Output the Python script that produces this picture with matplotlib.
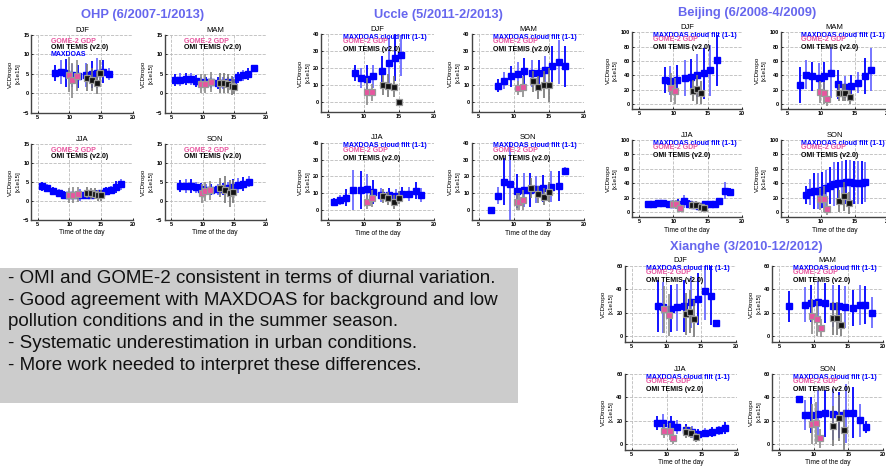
import matplotlib.pyplot as plt

plt.rcParams['font.family'] = ['Liberation Sans', 'DejaVu Sans']

# ---- data: (time of day, VCDtropo, error) per season and instrument ----
# OHP
ohp_djf_max = ([7.7, 8.6, 9.5, 10.4, 11.4, 12.6, 13.5, 14.4, 15.3, 16.2],
               [5.2, 5.5, 5.2, 4.6, 4.4, 4.7, 4.9, 5.2, 5.6, 5.0],
               [2.0, 3.0, 3.5, 3.0, 3.0, 3.0, 3.5, 3.8, 3.0, 1.5])
ohp_djf_gome = ([9.9, 10.4, 11.2], [4.8, 3.4, 4.5], [4.5, 4.5, 4.0])
ohp_djf_omi = ([12.8, 13.5, 14.3, 14.9], [4.0, 3.5, 2.7, 5.1], [3.5, 3.0, 3.0, 3.5])

ohp_mam_max = ([5.7, 6.5, 7.3, 8.1, 8.9, 9.7, 10.5, 11.3, 12.4, 13.2, 14.0, 14.8, 15.6, 16.4, 17.2, 18.1],
               [3.4, 3.5, 3.6, 3.7, 3.1, 2.8, 2.8, 2.8, 2.7, 2.7, 2.8, 2.6, 4.1, 4.6, 4.9, 6.6],
               [1.5, 1.6, 1.5, 1.6, 1.5, 1.5, 1.5, 1.5, 1.5, 1.5, 1.5, 1.5, 1.5, 1.5, 1.5, 0.5])
ohp_mam_gome = ([9.8, 10.4, 11.4], [2.5, 2.5, 2.9], [2.5, 2.5, 2.5])
ohp_mam_omi = ([12.8, 13.4, 14.0, 14.6, 15.0], [2.6, 2.6, 2.5, 2.0, 1.7], [2.5, 2.5, 2.5, 2.5, 2.0])

ohp_jja_max = ([5.7, 6.5, 7.4, 8.3, 9.2, 10.0, 10.8, 11.6, 12.6, 13.4, 14.2, 15.0, 15.8, 16.6, 17.4, 18.2],
               [3.9, 3.4, 2.7, 2.2, 1.7, 1.5, 1.5, 1.6, 1.6, 1.7, 1.8, 2.0, 2.6, 3.0, 3.7, 4.4],
               [1.2, 1.1, 1.0, 1.0, 1.0, 1.0, 1.0, 1.5, 1.0, 1.0, 1.0, 1.0, 1.0, 1.0, 1.5, 1.5])
ohp_jja_gome = ([10.0, 10.6, 11.3], [1.5, 1.6, 1.8], [2.0, 2.0, 2.0])
ohp_jja_omi = ([12.8, 13.4, 14.0, 14.5, 15.0], [2.2, 2.0, 1.9, 1.5, 1.5], [1.5, 1.5, 1.5, 1.5, 1.5])

ohp_son_max = ([6.5, 7.3, 8.1, 8.9, 9.7, 10.5, 11.4, 12.4, 13.2, 14.0, 14.8, 15.6, 16.4, 17.3],
               [4.0, 4.0, 3.9, 3.6, 3.2, 3.0, 3.0, 3.1, 3.2, 3.4, 3.8, 4.1, 4.5, 5.1],
               [1.5, 1.8, 1.8, 1.5, 1.5, 1.5, 1.5, 1.5, 1.5, 1.5, 2.0, 2.0, 1.8, 1.5])
ohp_son_gome = ([9.9, 10.4, 11.1], [2.0, 2.6, 2.8], [2.5, 2.5, 2.5])
ohp_son_omi = ([12.8, 13.5, 14.3, 14.8], [3.5, 3.0, 2.0, 2.5], [2.5, 3.5, 3.5, 3.0])

# Uccle
ucc_djf_max = ([8.8, 9.6, 10.5, 11.4, 12.6, 13.6, 14.5, 15.3],
               [17, 14, 13.5, 15, 18, 23, 26, 27.5],
               [4.5, 6, 8, 7, 9, 15, 14, 12])
ucc_djf_gome = ([10.5, 11.2], [6, 5.5], [8, 5])
ucc_djf_omi = ([12.8, 13.5, 14.3, 15.0], [10, 9.5, 9, 0], [6, 7, 6, 0.5])

ucc_mam_max = ([7.8, 8.6, 9.6, 10.6, 11.4, 12.6, 13.6, 14.5, 15.4, 16.5, 17.3],
               [9.5, 12.5, 15, 16.5, 18, 17, 17, 19, 21, 23.5, 21],
               [4, 5, 6, 7, 8, 8, 8, 8, 12, 13, 12])
ucc_mam_gome = ([10.6, 11.3], [8, 9], [4, 6])
ucc_mam_omi = ([12.8, 13.5, 14.3, 15.0], [12, 8.5, 10, 10], [6, 7, 8, 10])

ucc_jja_max = ([5.8, 6.6, 7.5, 8.5, 9.6, 10.5, 11.4, 12.5, 13.6, 14.6, 15.5, 16.5, 17.4, 18.2],
               [5, 6, 7.5, 12, 12, 12.5, 11, 9, 9, 8.5, 9.5, 9.5, 11.5, 9],
               [2.5, 3, 5, 12, 11, 9, 7, 4, 4, 4, 4, 4, 5, 4])
ucc_jja_gome = ([10.5, 11.2], [5, 7], [4, 5])
ucc_jja_omi = ([12.7, 13.5, 14.3, 15.0], [8.5, 7, 5, 7.5], [4, 4, 4, 4])

ucc_son_max = ([6.8, 7.7, 8.6, 9.5, 10.5, 11.4, 12.3, 13.2, 14.1, 15.3, 16.5, 17.3],
               [0, 8.5, 17, 15.5, 11.5, 12, 12, 12.5, 13, 14, 14.5, 23.5],
               [0.5, 5, 14, 25, 10, 10, 10, 8, 8, 9, 9, 2])
ucc_son_gome = ([10.4, 10.8, 11.3], [5, 5, 6], [5, 5, 6])
ucc_son_omi = ([12.5, 13.5, 14.3, 15.0], [13, 9.5, 8, 11], [6, 5, 5, 6])

# Beijing
bei_djf_max = ([8.8, 9.5, 10.6, 11.7, 12.6, 13.5, 14.5, 15.4, 16.3],
               [34, 33, 34, 37, 37.5, 40, 43, 47, 61],
               [18, 20, 20, 25, 25, 30, 35, 35, 35])
bei_djf_gome = ([9.7, 10.3], [23, 19], [20, 18])
bei_djf_omi = ([12.8, 13.4, 14.0], [19, 21, 16], [15, 20, 16])

bei_mam_max = ([6.9, 7.7, 8.6, 9.7, 10.5, 11.5, 12.5, 13.5, 14.4, 15.5, 16.5, 17.5],
               [27, 41, 39, 37, 39, 44, 28, 24, 26, 30, 39, 48],
               [25, 20, 20, 20, 20, 35, 20, 15, 15, 15, 25, 30])
bei_mam_gome = ([9.9, 10.4, 10.9], [17, 16, 8], [15, 15, 10])
bei_mam_omi = ([12.6, 13.2, 13.6, 14.3], [16, 16, 16, 10], [12, 12, 12, 10])

bei_jja_max = ([6.3, 7.0, 7.7, 8.5, 9.3, 10.0, 10.7, 11.5, 12.3, 13.0, 13.8, 14.6, 15.3, 16.0, 16.7, 17.5, 18.3],
               [12, 12, 12.5, 13, 12, 11, 12, 15, 12, 10, 9, 11, 12, 12, 16, 30, 28],
               [3, 3, 3, 3, 3, 3, 7, 9, 5, 4, 4, 4, 3, 3, 4, 12, 6])
bei_jja_gome = ([9.9, 10.4, 11.0], [12, 11, 6], [5, 6, 5])
bei_jja_omi = ([12.7, 13.3, 14.0, 14.4], [10, 10, 8, 6], [5, 5, 5, 5])

bei_son_max = ([7.7, 8.3, 8.9, 9.5, 10.1, 10.7, 11.3, 11.9, 12.5, 13.1, 13.7, 14.3, 14.9, 15.5, 16.1, 16.6],
               [24, 28, 29, 30, 31, 33, 37, 39, 40, 41, 42, 42, 41, 41, 41, 42],
               [12, 18, 25, 25, 25, 25, 25, 30, 30, 30, 30, 30, 30, 30, 30, 28])
bei_son_gome = ([9.8, 10.4, 10.9], [18, 18, 5], [15, 18, 8])
bei_son_omi = ([12.6, 13.4, 14.1], [16, 22, 13], [15, 20, 15])

# Xianghe
xia_djf_max = ([8.8, 9.5, 10.6, 11.5, 12.5, 13.5, 14.5, 15.5, 16.4, 17.1],
               [25.5, 24.5, 23.5, 24.5, 26, 29, 32, 38.5, 34.5, 11],
               [22, 22, 20, 20, 22, 22, 22, 25, 25, 2])
xia_djf_gome = ([9.6, 10.3], [23, 18], [20, 18])
xia_djf_omi = ([12.8, 13.4, 13.9], [19, 21, 15], [18, 18, 16])

xia_mam_max = ([6.4, 8.7, 9.6, 10.6, 11.7, 12.8, 13.7, 14.6, 15.7, 16.7, 17.5, 18.4],
               [25.5, 27, 28, 29, 28, 25.5, 25.5, 25, 24, 27, 26.5, 20],
               [13, 15, 16, 18, 17, 18, 18, 18, 15, 17, 16, 13])
xia_mam_gome = ([9.7, 10.4, 11.0], [17, 15, 7], [15, 15, 8])
xia_mam_omi = ([12.8, 13.4, 14.0], [15.5, 15.5, 10], [14, 14, 10])

xia_jja_max = ([8.6, 9.5, 10.6, 11.5, 12.7, 13.6, 14.5, 15.5, 16.5, 17.5, 18.3],
               [18, 18.5, 17, 14.5, 12, 10.5, 9, 10, 10.5, 12, 14],
               [6, 7, 7, 6, 5, 5, 4, 4, 4, 4, 5])
xia_jja_gome = ([9.6, 10.4, 10.9], [11, 11, 5], [6, 7, 5])
xia_jja_omi = ([12.8, 13.5, 14.2], [10.5, 10, 6], [5, 5, 4])

xia_son_max = ([7.9, 8.7, 9.6, 10.6, 11.6, 12.7, 13.7, 14.7, 15.7, 16.7, 17.5],
               [39, 25, 25, 26, 26.5, 25.5, 25, 26.5, 27, 20.5, 15],
               [2, 13, 15, 20, 20, 22, 20, 25, 22, 14, 5])
xia_son_gome = ([9.8, 10.3, 10.9], [17, 18, 5], [17, 18, 8])
xia_son_omi = ([12.8, 13.6, 14.3], [15.5, 22.5, 12.5], [17, 20, 17])

notes = ["- OMI and GOME-2 consistent in terms of diurnal variation.",
         "- Good agreement with MAXDOAS for background and low",
         "pollution conditions and in the summer season.",
         "- Systematic underestimation in urban conditions.",
         "- More work needed to interpret these differences."]

W, H = 886, 470
BLUE = '#0000ff'
PINK = '#e8559f'
TITLE_C = '#6666ee'

fig = plt.figure(figsize=(W / 100, H / 100), dpi=100)


def panel(box, ylim, yticks, season, mx, gm, om, labels, xlabel=False):
    x0, x1, y0, y1 = box
    ax = fig.add_axes([x0 / W, 1 - y1 / H, (x1 - x0) / W, (y1 - y0) / H])
    ax.set_xlim(4, 20)
    ax.set_ylim(*ylim)
    ax.set_xticks([5, 10, 15, 20])
    ax.set_yticks(yticks)
    ax.grid(True, color='#bbbbbb', linestyle='--', linewidth=0.6)
    ax.set_axisbelow(True)
    for s in ['top', 'right']:
        ax.spines[s].set_visible(False)
    for s in ['left', 'bottom']:
        ax.spines[s].set_color('#444444')
        ax.spines[s].set_linewidth(1.0)
    ax.tick_params(labelsize=4, length=1.5, width=0.6, pad=1.5, direction='in')
    for lab in ax.get_xticklabels() + ax.get_yticklabels():
        lab.set_fontweight('bold')
    ax.set_title(season, fontsize=5.5, pad=2.5)
    ax.set_ylabel('VCDtropo\n[x1e15]', fontsize=4.5, labelpad=2, linespacing=1.6)
    if xlabel:
        ax.set_xlabel('Time of the day', fontsize=4.8, labelpad=1.5)

    # MAXDOAS
    t, v, e = mx
    cols = [BLUE if i % 2 == 0 else '#6b6bff' for i in range(len(t))]
    ax.vlines(t, [a - b for a, b in zip(v, e)], [a + b for a, b in zip(v, e)],
              colors=cols, linewidth=1.3, zorder=2)
    ax.plot(t, v, 's', color=BLUE, markersize=5, zorder=3)
    # GOME-2
    t, v, e = gm
    ax.vlines(t, [a - b for a, b in zip(v, e)], [a + b for a, b in zip(v, e)],
              colors='#8a8a8a', linewidth=1.2, zorder=4)
    ax.plot(t, v, 's', color=PINK, markeredgecolor='#999999', markeredgewidth=0.9,
            markersize=4.3, zorder=5)
    # OMI
    t, v, e = om
    ax.vlines(t, [a - b for a, b in zip(v, e)], [a + b for a, b in zip(v, e)],
              colors='#777777', linewidth=1.2, zorder=4)
    ax.plot(t, v, 's', color='#111111', markeredgecolor='#999999', markeredgewidth=0.9,
            markersize=4.3, zorder=5)

    for txt, col, yy in labels:
        ax.text(0.19, yy, txt, color=col, fontsize=5, fontweight='bold',
                transform=ax.transAxes, va='center', ha='left', zorder=6)
    return ax


lab_full = [('MAXDOAS cloud filt (1-1)', BLUE, 0.96),
            ('GOME-2 GDP', PINK, 0.905),
            ('OMI TEMIS (v2.0)', 'black', 0.80)]
lab_ohp = [('GOME-2 GDP', PINK, 0.91), ('OMI TEMIS (v2.0)', 'black', 0.835)]
lab_ohp_djf = lab_ohp + [('MAXDOAS', BLUE, 0.755)]

# OHP
ohp_y = (-5, 15)
ohp_t = [-5, 0, 5, 10, 15]
panel((31.4, 132.7, 35, 112.7), ohp_y, ohp_t, 'DJF', ohp_djf_max, ohp_djf_gome, ohp_djf_omi, lab_ohp_djf)
panel((164.7, 265.7, 35, 112.7), ohp_y, ohp_t, 'MAM', ohp_mam_max, ohp_mam_gome, ohp_mam_omi, lab_ohp)
panel((31.4, 132.7, 144, 220), ohp_y, ohp_t, 'JJA', ohp_jja_max, ohp_jja_gome, ohp_jja_omi, lab_ohp, True)
panel((164.7, 265.7, 144, 220), ohp_y, ohp_t, 'SON', ohp_son_max, ohp_son_gome, ohp_son_omi, lab_ohp, True)

# Uccle
ucc_y = (-6, 40)
ucc_t = [0, 10, 20, 30, 40]
panel((321.3, 434, 34.3, 111.8), ucc_y, ucc_t, 'DJF', ucc_djf_max, ucc_djf_gome, ucc_djf_omi, lab_full)
panel((471.7, 584, 34.3, 111.8), ucc_y, ucc_t, 'MAM', ucc_mam_max, ucc_mam_gome, ucc_mam_omi, lab_full)
panel((321.3, 434, 142.7, 220.4), ucc_y, ucc_t, 'JJA', ucc_jja_max, ucc_jja_gome, ucc_jja_omi, lab_full, True)
panel((471.7, 584, 142.7, 220.4), ucc_y, ucc_t, 'SON', ucc_son_max, ucc_son_gome, ucc_son_omi, lab_full, True)

# Beijing
bei_y = (-7, 100)
bei_t = [0, 20, 40, 60, 80, 100]
panel((632.1, 742, 32.3, 109.3), bei_y, bei_t, 'DJF', bei_djf_max, bei_djf_gome, bei_djf_omi, lab_full)
panel((781, 888, 32.3, 109.3), bei_y, bei_t, 'MAM', bei_mam_max, bei_mam_gome, bei_mam_omi, lab_full)
panel((632.1, 742, 140, 217.4), bei_y, bei_t, 'JJA', bei_jja_max, bei_jja_gome, bei_jja_omi, lab_full, True)
panel((781, 888, 140, 217.4), bei_y, bei_t, 'SON', bei_son_max, bei_son_gome, bei_son_omi, lab_full, True)

# Xianghe
xia_y = (-5, 60)
xia_t = [0, 20, 40, 60]
panel((624.7, 736, 265.7, 342.2), xia_y, xia_t, 'DJF', xia_djf_max, xia_djf_gome, xia_djf_omi, lab_full)
panel((772.4, 882.7, 265.7, 342.2), xia_y, xia_t, 'MAM', xia_mam_max, xia_mam_gome, xia_mam_omi, lab_full)
panel((624.7, 736.7, 374, 450.2), xia_y, xia_t, 'JJA', xia_jja_max, xia_jja_gome, xia_jja_omi, lab_full, True)
panel((772.4, 883, 374, 450.2), xia_y, xia_t, 'SON', xia_son_max, xia_son_gome, xia_son_omi, lab_full, True)

# site titles
for txt, x, y in [('OHP (6/2007-1/2013)', 143, 15), ('Uccle (5/2011-2/2013)', 438, 15),
                  ('Beijing (6/2008-4/2009)', 747, 13), ('Xianghe (3/2010-12/2012)', 746, 247)]:
    fig.text(x / W, 1 - y / H, txt, color=TITLE_C, fontsize=9.3, fontweight='bold',
             ha='center', va='center', zorder=10,
             bbox=dict(facecolor='white', edgecolor='none', pad=2.5))

# conclusions box
fig.patches.append(plt.Rectangle((0, 1 - 403 / H), 518 / W, 135 / H, transform=fig.transFigure,
                                 facecolor='#cccccc', edgecolor='none', zorder=1))
fig.text(8 / W, 1 - 322 / H, '\n'.join(notes), fontsize=13.5, color='#111111',
         ha='left', va='center', linespacing=1.36, zorder=2)

fig.savefig('out.png', dpi=100)
